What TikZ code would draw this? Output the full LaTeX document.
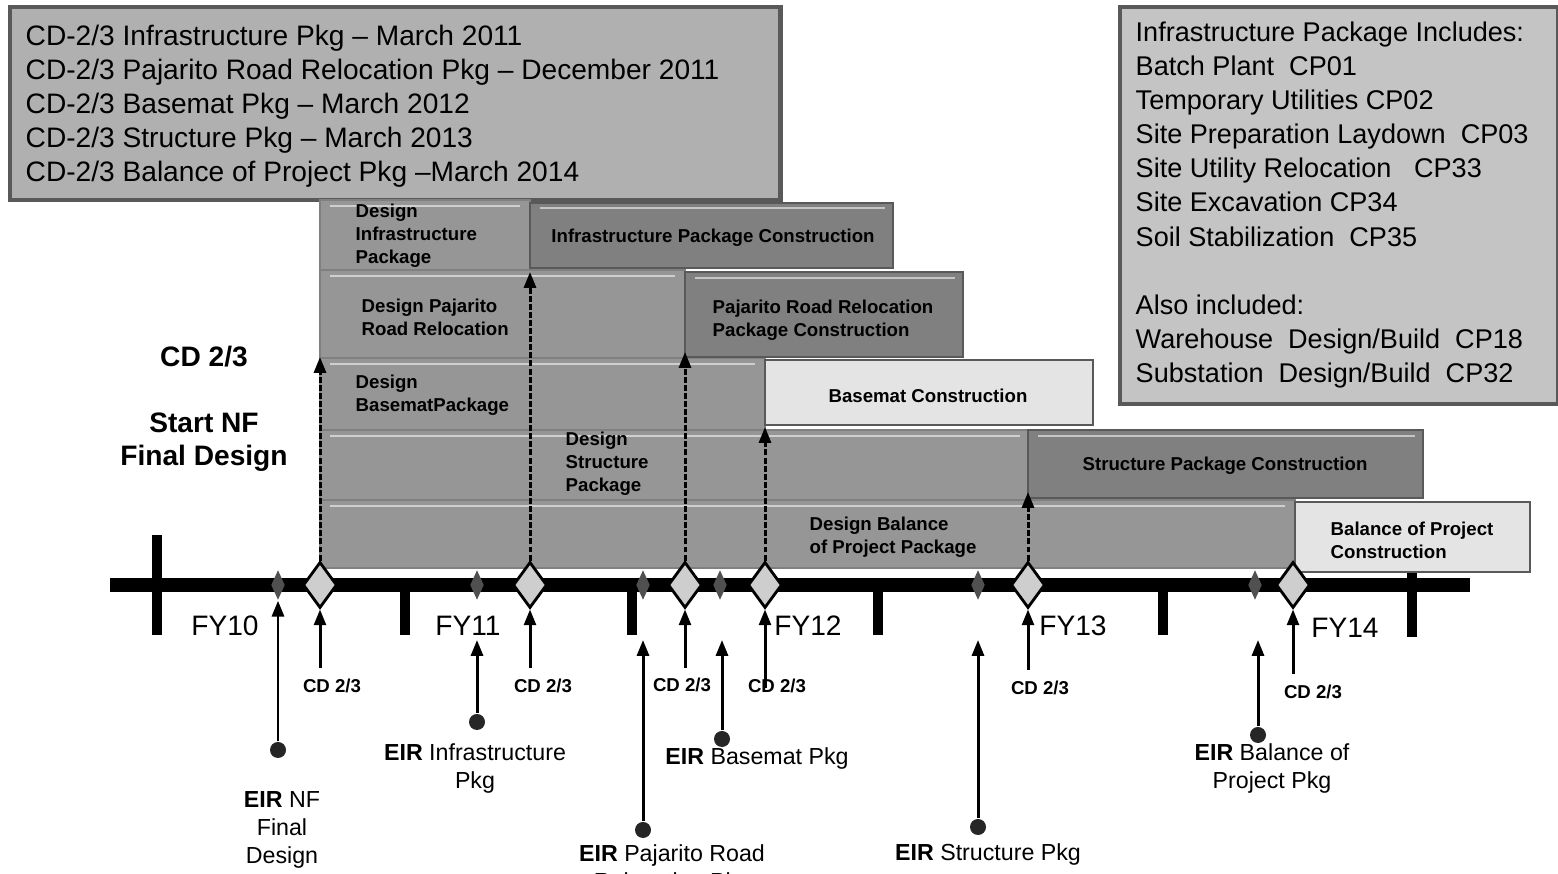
\documentclass[tikz,border=0pt]{standalone}
\usepackage{fontspec}
\setmainfont{Liberation Sans}
\usetikzlibrary{arrows.meta,positioning,shapes.geometric}
\definecolor{boxgray}{RGB}{176,176,176}
\definecolor{notegray}{RGB}{196,196,196}
\definecolor{designgray}{RGB}{150,150,150}
\definecolor{buildgray}{RGB}{128,128,128}
\definecolor{lightbar}{RGB}{228,228,228}
\definecolor{milegray}{RGB}{206,206,206}
\definecolor{eirgray}{RGB}{80,80,80}
\tikzset{
  infobox/.style={draw=black!65, line width=1.2pt, fill=boxgray, anchor=north west, inner sep=0pt},
  boxtext/.style={anchor=west, align=left, inner sep=0pt, font=\fontsize{8}{9.7}\selectfont},
  designbar/.style={draw=black!50, line width=0.5pt, fill=designgray},
  buildbar/.style={draw=black!65, line width=0.8pt, fill=buildgray},
  lightbuild/.style={draw=black!65, line width=0.8pt, fill=lightbar},
  sheen/.style={white, opacity=0.55, line width=0.8pt},
  barlabel/.style={font=\bfseries\fontsize{5.3}{6.5}\selectfont, align=left, inner sep=0pt},
  bigmile/.style={diamond, draw=black, line width=0.8pt, fill=milegray,
    minimum width=0.34cm, minimum height=0.46cm, inner sep=0pt},
  smallmile/.style={diamond, fill=eirgray, minimum width=0.14cm, minimum height=0.3cm, inner sep=0pt},
  eirdot/.style={circle, fill=black!85, minimum size=0.16cm, inner sep=0pt},
  cdlabel/.style={font=\bfseries\fontsize{5.3}{6.5}\selectfont, inner sep=0pt},
  eirlabel/.style={font=\fontsize{6.6}{8}\selectfont, align=center, inner sep=0pt},
  fylabel/.style={font=\fontsize{8}{9.7}\selectfont, inner sep=0pt},
  startlabel/.style={font=\bfseries\fontsize{8}{9.4}\selectfont, align=center, inner sep=0pt},
  uparrow/.style={line width=0.85pt, -{Triangle[length=4.5pt,width=3.4pt]}},
  gatearrow/.style={uparrow, dash pattern=on 1.7pt off 0.6pt},
}

\begin{document}
\begin{tikzpicture}[x=0.01cm, y=-0.01cm]
    \useasboundingbox (0,0) rectangle (1558,874);

    % CD-2/3 dates
    \node[infobox, minimum width=7.7cm, minimum height=1.93cm] (datesbox) at (8,5) {};
    \node[boxtext] (dates) at (25,106)
      {CD-2/3 Infrastructure Pkg -- March 2011\\
       CD-2/3 Pajarito Road Relocation Pkg -- December 2011\\
       CD-2/3 Basemat Pkg -- March 2012\\
       CD-2/3 Structure Pkg -- March 2013\\
       CD-2/3 Balance of Project Pkg --March 2014};

    % what the infrastructure package holds
    \node[infobox, fill=notegray, minimum width=4.38cm, minimum height=3.97cm] (inclbox) at (1118,5) {};
    \node[boxtext, font=\fontsize{7.7}{9.7}\selectfont] (incl) at (1135,205)
      {Infrastructure Package Includes:\\
       Batch Plant\ \ CP01\\
       Temporary Utilities CP02\\
       Site Preparation Laydown\ \ CP03\\
       Site Utility Relocation\ \ \ CP33\\
       Site Excavation CP34\\
       Soil Stabilization\ \ CP35\\[9.7pt]
       Also included:\\
       Warehouse\ \ Design/Build\ \ CP18\\
       Substation\ \ Design/Build\ \ CP32};

    % design bars
    \draw[designbar] (320,200) rectangle (530,270);
    \draw[designbar] (320,270) rectangle (685,358);
    \draw[designbar] (320,358) rectangle (765,430);
    \draw[designbar] (320,430) rectangle (1028,500);
    \draw[designbar] (320,500) rectangle (1295,568);
    % construction bars
    \draw[buildbar] (530,203) rectangle (893,268);
    \draw[buildbar] (685,272) rectangle (963,357);
    \draw[lightbuild] (765,360) rectangle (1093,425);
    \draw[buildbar] (1028,430) rectangle (1423,498);
    \draw[lightbuild] (1295,502) rectangle (1530,572);
    % light streaks along the row tops
    \draw[sheen] (330,206) -- (520,206);
    \draw[sheen] (540,208) -- (885,208);
    \draw[sheen] (330,276) -- (675,276);
    \draw[sheen] (695,278) -- (955,278);
    \draw[sheen] (330,364) -- (755,364);
    \draw[sheen] (330,436) -- (1020,436);
    \draw[sheen] (1038,436) -- (1415,436);
    \draw[sheen] (330,506) -- (1285,506);

    \node[barlabel, anchor=west] (dinfra) at (355,236) {Design\\Infrastructure\\Package};
    \node[barlabel] (binfra) at (713,238) {Infrastructure Package Construction};
    \node[barlabel, anchor=west] (dpaj) at (361,317) {Design Pajarito\\Road Relocation};
    \node[barlabel, anchor=west] (bpaj) at (712,320) {Pajarito Road Relocation\\Package Construction};
    \node[barlabel, anchor=west] (dbase) at (355,395) {Design\\BasematPackage};
    \node[barlabel] (bbase) at (928,396) {Basemat Construction};
    \node[barlabel, anchor=west] (dstruct) at (565,464) {Design\\Structure\\Package};
    \node[barlabel] (bstruct) at (1225,466) {Structure Package Construction};
    \node[barlabel, anchor=west] (dbop) at (809,537) {Design Balance\\of Project Package};
    \node[barlabel, anchor=west] (bbop) at (1330,540) {Balance of Project\\Construction};

    % time line and fiscal year ticks
    \fill (110,578) rectangle (1470,592);
    \fill (152,535) rectangle (162,635);
    \fill (400,592) rectangle (410,635);
    \fill (627,592) rectangle (637,635);
    \fill (873,592) rectangle (883,635);
    \fill (1158,592) rectangle (1168,635);
    \fill (1407,573) rectangle (1417,637);
    \node[fylabel] (fy10) at (225,626) {FY10};
    \node[fylabel] (fy11) at (468,626) {FY11};
    \node[fylabel] (fy12) at (808,626) {FY12};
    \node[fylabel] (fy13) at (1073,626) {FY13};
    \node[fylabel] (fy14) at (1345,628) {FY14};

    % EIR milestones (small) and CD 2/3 gates (large)
    \node[smallmile] (eir1) at (278,585) {};
    \node[smallmile] (eir2) at (477,585) {};
    \node[smallmile] (eir3) at (643,585) {};
    \node[smallmile] (eir4) at (720,585) {};
    \node[smallmile] (eir5) at (978,585) {};
    \node[smallmile] (eir6) at (1255,585) {};
    \node[bigmile] (gate1) at (320,585) {};
    \node[bigmile] (gate2) at (530,585) {};
    \node[bigmile] (gate3) at (685,585) {};
    \node[bigmile] (gate4) at (765,585) {};
    \node[bigmile] (gate5) at (1028,585) {};
    \node[bigmile] (gate6) at (1293,585) {};

    % gates release the next bar
    \coordinate (rel1) at (320,357);
    \coordinate (rel2) at (530,272);
    \coordinate (rel3) at (685,352);
    \coordinate (rel4) at (765,427);
    \coordinate (rel5) at (1028,492);
    \draw[gatearrow] (gate1.north) -- (rel1);
    \draw[gatearrow] (gate2.north) -- (rel2);
    \draw[gatearrow] (gate3.north) -- (rel3);
    \draw[gatearrow] (gate4.north) -- (rel4);
    \draw[gatearrow] (gate5.north) -- (rel5);

    \node[startlabel] (cdleft) at (204,357) {CD 2/3};
    \node[startlabel] (nfstart) at (204,442) {Start NF\\Final Design};

    % CD 2/3 call-outs
    \node[cdlabel] (cd1) at (332,686) {CD 2/3};
    \node[cdlabel] (cd2) at (543,686) {CD 2/3};
    \node[cdlabel] (cd3) at (682,685) {CD 2/3};
    \node[cdlabel] (cd4) at (777,686) {CD 2/3};
    \node[cdlabel] (cd5) at (1040,688) {CD 2/3};
    \node[cdlabel] (cd6) at (1313,692) {CD 2/3};
    \coordinate (cdfoot1) at (320,668);
    \coordinate (cdfoot2) at (530,668);
    \coordinate (cdfoot3) at (685,668);
    \coordinate (cdfoot4) at (765,688);
    \coordinate (cdfoot5) at (1028,670);
    \coordinate (cdfoot6) at (1293,674);
    \draw[uparrow] (cdfoot1) -- (gate1.south);
    \draw[uparrow] (cdfoot2) -- (gate2.south);
    \draw[uparrow] (cdfoot3) -- (gate3.south);
    \draw[uparrow] (cdfoot4) -- (gate4.south);
    \draw[uparrow] (cdfoot5) -- (gate5.south);
    \draw[uparrow] (cdfoot6) -- (gate6.south);

    % EIR call-outs
    \node[eirdot] (dot1) at (278,750) {};
    \node[eirdot] (dot2) at (477,722) {};
    \node[eirdot] (dot3) at (643,830) {};
    \node[eirdot] (dot4) at (722,739) {};
    \node[eirdot] (dot5) at (978,827) {};
    \node[eirdot] (dot6) at (1258,735) {};
    \coordinate (tip2) at (477,640);
    \coordinate (tip3) at (643,640);
    \coordinate (tip4) at (722,640);
    \coordinate (tip5) at (978,640);
    \coordinate (tip6) at (1258,640);
    \draw[uparrow] (dot1) -- (eir1.south);
    \draw[uparrow] (dot2) -- (tip2);
    \draw[uparrow] (dot3) -- (tip3);
    \draw[uparrow] (dot4) -- (tip4);
    \draw[uparrow] (dot5) -- (tip5);
    \draw[uparrow] (dot6) -- (tip6);

    \node[eirlabel, anchor=north] (eirnf) at (282,791) {\textbf{EIR} NF\\Final\\Design};
    \node[eirlabel, anchor=north] (eirinfra) at (475,743) {\textbf{EIR} Infrastructure\\Pkg};
    \node[eirlabel, anchor=north] (eirpaj) at (672,844) {\textbf{EIR} Pajarito Road\\Relocation Pkg};
    \node[eirlabel] (eirbase) at (757,759) {\textbf{EIR} Basemat Pkg};
    \node[eirlabel] (eirstruct) at (988,855) {\textbf{EIR} Structure Pkg};
    \node[eirlabel, anchor=north] (eirbop) at (1272,743) {\textbf{EIR} Balance of\\Project Pkg};
  \end{tikzpicture}
\end{document}
